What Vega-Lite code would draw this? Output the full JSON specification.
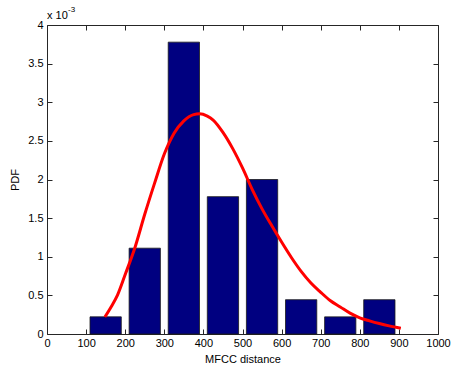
{
  "$schema": "https://vega.github.io/schema/vega-lite/v6.json",
  "width": 391,
  "height": 309,
  "autosize": "none",
  "padding": {"left": 47, "top": 25, "right": 13, "bottom": 38},
  "background": "white",
  "config": {
    "view": {"stroke": null},
    "font": "Liberation Sans",
    "axis": {
      "labelFont": "Liberation Sans",
      "titleFont": "Liberation Sans",
      "labelFontSize": 11,
      "titleFontSize": 11,
      "titleFontWeight": "normal",
      "labelColor": "#000000",
      "titleColor": "#000000",
      "domainColor": "#262626",
      "tickColor": "#262626",
      "grid": false,
      "tickSize": -5
    }
  },
  "datasets": {
    "bars": [
      {"x0": 110, "x1": 190, "pdf": 0.222},
      {"x0": 210, "x1": 290, "pdf": 1.111},
      {"x0": 310, "x1": 390, "pdf": 3.778},
      {"x0": 410, "x1": 490, "pdf": 1.778},
      {"x0": 510, "x1": 590, "pdf": 2.0},
      {"x0": 610, "x1": 690, "pdf": 0.444},
      {"x0": 710, "x1": 790, "pdf": 0.222},
      {"x0": 810, "x1": 890, "pdf": 0.444}
    ],
    "curve": [
      {"x": 148, "pdf": 0.22},
      {"x": 165, "pdf": 0.36},
      {"x": 180, "pdf": 0.5},
      {"x": 200, "pdf": 0.77},
      {"x": 225, "pdf": 1.12},
      {"x": 250, "pdf": 1.55},
      {"x": 275, "pdf": 1.95},
      {"x": 300, "pdf": 2.33},
      {"x": 325, "pdf": 2.6},
      {"x": 350, "pdf": 2.76},
      {"x": 375, "pdf": 2.84},
      {"x": 390, "pdf": 2.85},
      {"x": 410, "pdf": 2.82},
      {"x": 425, "pdf": 2.77},
      {"x": 450, "pdf": 2.61},
      {"x": 475, "pdf": 2.4},
      {"x": 500, "pdf": 2.15},
      {"x": 525, "pdf": 1.87},
      {"x": 550, "pdf": 1.62},
      {"x": 575, "pdf": 1.4},
      {"x": 600, "pdf": 1.19},
      {"x": 625, "pdf": 0.99},
      {"x": 650, "pdf": 0.81},
      {"x": 675, "pdf": 0.66},
      {"x": 700, "pdf": 0.54},
      {"x": 725, "pdf": 0.43},
      {"x": 750, "pdf": 0.35},
      {"x": 775, "pdf": 0.27},
      {"x": 800, "pdf": 0.21},
      {"x": 825, "pdf": 0.17},
      {"x": 850, "pdf": 0.135},
      {"x": 875, "pdf": 0.105},
      {"x": 905, "pdf": 0.075}
    ],
    "note": [{"x": 0, "pdf": 4}]
  },
  "resolve": {"axis": {"x": "independent", "y": "independent"}},
  "layer": [
    {
      "data": {"name": "bars"},
      "mark": {"type": "bar", "color": "#000080", "stroke": "#1a1a1a", "strokeWidth": 0.8},
      "encoding": {
        "x": {
          "field": "x0", "type": "quantitative",
          "scale": {"domain": [0, 1000], "nice": false},
          "axis": {"orient": "bottom", "values": [0,100,200,300,400,500,600,700,800,900,1000], "format": "d", "title": "MFCC distance", "labelPadding": 8, "titlePadding": 5, "labelFlush": false}
        },
        "x2": {"field": "x1"},
        "y": {
          "field": "pdf", "type": "quantitative",
          "scale": {"domain": [0, 4], "nice": false},
          "axis": {"orient": "left", "values": [0,0.5,1,1.5,2,2.5,3,3.5,4], "format": "~g", "title": "PDF", "labelPadding": 9, "titlePadding": 7, "labelFlush": false}
        },
        "y2": {"datum": 0}
      }
    },
    {
      "data": {"name": "curve"},
      "mark": {"type": "line", "color": "#ff0000", "strokeWidth": 3, "interpolate": "monotone"},
      "encoding": {
        "x": {
          "field": "x", "type": "quantitative",
          "axis": {"orient": "top", "values": [0,100,200,300,400,500,600,700,800,900,1000], "labels": false, "title": null}
        },
        "y": {
          "field": "pdf", "type": "quantitative",
          "axis": {"orient": "right", "values": [0,0.5,1,1.5,2,2.5,3,3.5,4], "labels": false, "title": null}
        }
      }
    },
    {
      "data": {"name": "note"},
      "mark": {"type": "text", "text": "x 10", "align": "left", "baseline": "alphabetic", "dy": -6, "fontSize": 11, "font": "Liberation Sans", "color": "#000000"},
      "encoding": {
        "x": {"field": "x", "type": "quantitative", "axis": null},
        "y": {"field": "pdf", "type": "quantitative", "axis": null}
      }
    },
    {
      "data": {"name": "note"},
      "mark": {"type": "text", "text": "-3", "align": "left", "baseline": "alphabetic", "dx": 21, "dy": -13, "fontSize": 8, "font": "Liberation Sans", "color": "#000000"},
      "encoding": {
        "x": {"field": "x", "type": "quantitative", "axis": null},
        "y": {"field": "pdf", "type": "quantitative", "axis": null}
      }
    }
  ]
}
